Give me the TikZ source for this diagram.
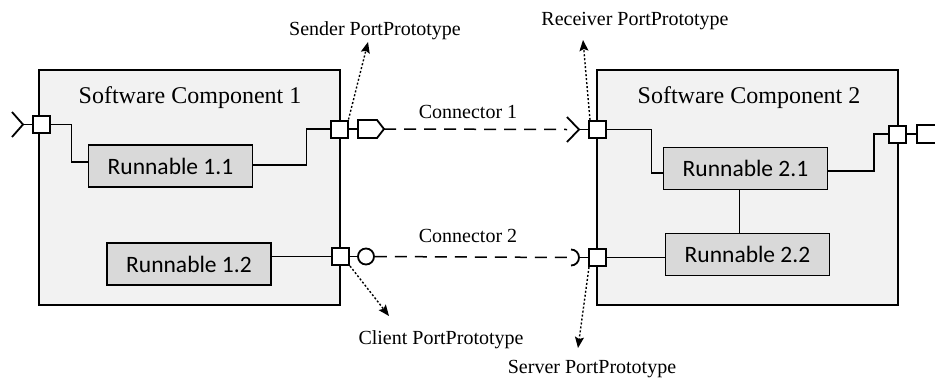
\documentclass[tikz,border=0pt]{standalone}
\usepackage{fontspec}
\setmainfont{Liberation Serif}
\newfontfamily\calib{Carlito}
\usetikzlibrary{arrows.meta}

\definecolor{compfill}{HTML}{F2F2F2}
\definecolor{runfill}{HTML}{D9D9D9}

\begin{document}
\begin{tikzpicture}[x=1pt,y=-1pt,
  comp/.style={draw, line width=2pt, fill=compfill, minimum width=301pt, minimum height=235pt, inner sep=0pt},
  title/.style={font=\fontsize{24}{28}\selectfont, inner sep=0pt, anchor=base},
  runnable/.style={draw, line width=1.5pt, fill=runfill, minimum width=164pt, minimum height=42pt, inner sep=0pt, font=\calib\fontsize{23.5}{28}\selectfont},
  port/.style={draw, line width=2pt, fill=white, minimum size=17pt, inner sep=0pt},
  wire/.style={line width=1.5pt},
  symb/.style={line width=1.8pt, line join=miter},
  conn/.style={line width=1.5pt, dash pattern=on 12pt off 8pt},
  lbl/.style={font=\fontsize{20}{24}\selectfont, inner sep=0pt, anchor=base},
  pointer/.style={line width=1.4pt, dash pattern=on 2pt off 2pt, -{Stealth[length=11pt,width=9pt,inset=2pt]}},
]
\useasboundingbox (0,0) rectangle (935,378);

% software components
\node[comp] (c1) at (189.5,187.5) {};
\node[comp] (c2) at (747.5,187.5) {};
\node[title] (t1) at (190,103) {Software Component 1};
\node[title] (t2) at (749,103) {Software Component 2};

% runnables
\node[runnable] (r11) at (170.5,166) {Runnable 1.1};
\node[runnable] (r12) at (189,264) {Runnable 1.2};
\node[runnable] (r21) at (745.5,168.5) {Runnable 2.1};
\node[runnable] (r22) at (747.5,254.5) {Runnable 2.2};

% ports
\node[port] (p1in) at (41,124.5) {};
\node[port] (p1s) at (339,129) {};
\node[port] (p1c) at (340.5,256.5) {};
\node[port] (p2r) at (597,129.5) {};
\node[port] (p2s) at (597,257.5) {};
\node[port] (p2out) at (897.5,134) {};

% internal wiring
\draw[wire] (p1in.east) -- ++(21,0) |- ([yshift=4pt]r11.west);
\draw[wire] ([yshift=1pt]r11.east) -| ([xshift=-23pt]p1s.west) -- (p1s.west);
\draw[wire] (r12.east |- p1c) -- (p1c.west);
\draw[wire] (p2r.east) -- ++(45,0) |- ([yshift=-4.5pt]r21.west);
\draw[wire] ([yshift=-2.5pt]r21.east) -| ([xshift=-14pt]p2out.west) -- (p2out.west);
\draw[wire] ([xshift=-6pt]r21.south) -- ([xshift=-6pt]r21.south |- r22.north);
\draw[wire] (p2s.east) -- (r22.west |- p2s);

% interface symbols
\coordinate (req1) at (23,124.5);
\draw[symb] (12,112) -- (req1) -- (12,137);
\draw[wire] (req1) -- (p1in.west);

\coordinate (sendtip) at (384,129);
\draw[symb, fill=white] (358,120) -- (377,120) -- (sendtip) -- (377,138) -- (358,138) -- cycle;
\draw[wire] (p1s.east) -- (358,129);

\node[draw, line width=1.8pt, fill=white, circle, minimum size=16pt, inner sep=0pt] (ball) at (366,256.5) {};
\draw[wire] (p1c.east) -- (ball.west);

\coordinate (req2) at (579,129.5);
\coordinate (req2end) at (567,129.5);
\draw[symb] (567,117) -- (req2) -- (567,142);
\draw[wire] (req2) -- (p2r.west);

\coordinate (sock) at (579,257.5);
\coordinate (sockend) at (570,257.5);
\draw[symb] (571,249.5) arc[start angle=-90, end angle=90, radius=8];
\draw[wire] (sock) -- (p2s.west);

\draw[symb, fill=white] (937,125) -- (917,125) -- (917,143) -- (937,143);
\draw[wire] (p2out.east) -- (917,134);

% assembly connectors
\draw[conn] (sendtip) -- (req2end);
\draw[conn] (ball.east) -- (sockend);
\node[lbl] (cn1) at (468,118) {Connector 1};
\node[lbl] (cn2) at (468,242) {Connector 2};

% port prototype annotations
\node[lbl] (ls) at (375,35) {Sender PortPrototype};
\node[lbl] (lr) at (635,25) {Receiver PortPrototype};
\node[lbl] (lc) at (441,344) {Client PortPrototype};
\node[lbl] (lv) at (592,373) {Server PortPrototype};
\coordinate (as) at (368,42);
\coordinate (ar) at (583,40);
\coordinate (ac) at (389,316);
\coordinate (av) at (578,348);
\draw[pointer] (p1s.north east) -- (as);
\draw[pointer] ([xshift=-7pt]p2r.north) -- (ar);
\draw[pointer] (p1c.south east) -- (ac);
\draw[pointer] ([xshift=-8pt]p2s.south) -- (av);
\end{tikzpicture}
\end{document}
